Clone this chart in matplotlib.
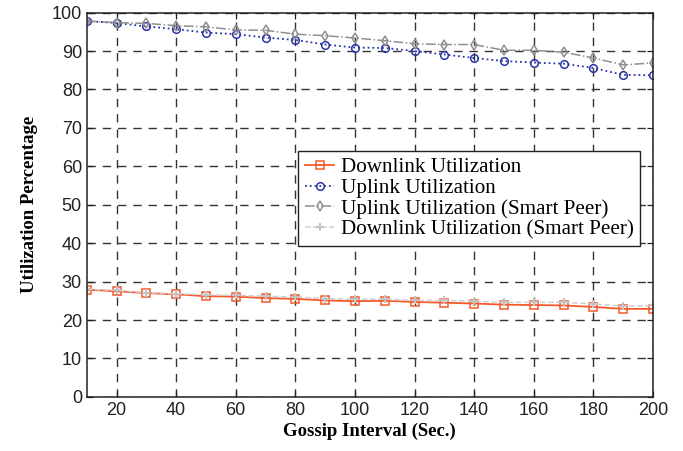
import matplotlib
matplotlib.use("Agg")
import matplotlib.pyplot as plt

# gossip interval in seconds
interval = [10, 20, 30, 40, 50, 60, 70, 80, 90, 100,
            110, 120, 130, 140, 150, 160, 170, 180, 190, 200]

downlink = [27.9, 27.5, 27.0, 26.7, 26.2, 26.1, 25.7, 25.5, 25.1, 24.9,
            25.0, 24.7, 24.5, 24.3, 24.0, 23.9, 23.8, 23.4, 22.9, 22.9]
uplink = [97.8, 97.3, 96.4, 95.7, 94.8, 94.4, 93.5, 92.9, 91.7, 90.9,
          90.8, 90.0, 89.1, 88.2, 87.4, 87.0, 86.7, 85.6, 83.8, 83.7]
uplink_smart = [97.8, 97.4, 97.2, 96.6, 96.3, 95.5, 95.4, 94.4, 94.0, 93.4,
                92.7, 91.9, 91.7, 91.7, 90.2, 90.2, 89.7, 88.2, 86.4, 86.9]
downlink_smart = [28.0, 27.7, 27.1, 26.8, 26.6, 26.4, 26.2, 26.0, 25.6, 25.4,
                  25.4, 25.1, 25.1, 24.9, 24.6, 24.6, 24.6, 24.2, 23.6, 23.8]

labels = ["Downlink Utilization", "Uplink Utilization",
          "Uplink Utilization (Smart Peer)", "Downlink Utilization (Smart Peer)"]

fig = plt.figure(figsize=(6.83, 4.51), dpi=100)
ax = fig.add_axes([0.127, 0.12, 0.829, 0.852])

ax.plot(interval, downlink, color="#f4592b", ls="-", lw=1.3, marker="s",
        ms=5.5, mfc="none", mec="#f4592b", mew=1.1, label=labels[0])
ax.plot(interval, uplink, color="#2a35a6", ls=":", lw=1.3, marker="o",
        ms=5.5, mfc="none", mec="#2a35a6", mew=1.1, label=labels[1])
ax.plot(interval, uplink_smart, color="#8f8f8f", ls="-.", lw=1.1, marker="d",
        ms=5.5, mfc="none", mec="#8f8f8f", mew=1.1, label=labels[2])
ax.plot(interval, downlink_smart, color="#cfcfcf", ls="--", lw=1.1, marker="+",
        ms=5.5, mec="#c4c4c4", mew=1.5, label=labels[3])

ax.set_xlim(10, 200)
ax.set_ylim(0, 100)
ax.set_xticks(range(20, 201, 20))
ax.set_yticks(range(0, 101, 10))

ax.grid(True, color="#333333", ls=(0, (6, 5)), lw=1.0)
ax.tick_params(direction="in", top=True, right=True, length=4, width=0.9,
               labelsize=13, colors="#222222")
for lab in ax.get_xticklabels() + ax.get_yticklabels():
    lab.set_family("Liberation Sans")
for sp in ax.spines.values():
    sp.set_linewidth(1.1)
    sp.set_color("#222222")

ax.set_xlabel("Gossip Interval (Sec.)", family="Liberation Serif",
              weight="bold", fontsize=13.5, labelpad=3)
ax.set_ylabel("Utilization Percentage", family="Liberation Serif",
              weight="bold", fontsize=13.5, labelpad=10)

leg = ax.legend(loc="upper right", bbox_to_anchor=(0.977, 0.64),
                borderaxespad=0, fancybox=False, framealpha=1,
                edgecolor="#222222", handlelength=1.4, handletextpad=0.3,
                labelspacing=0.05, borderpad=0.3,
                prop={"family": "Liberation Serif", "size": 15.2})
leg.get_frame().set_linewidth(1.0)

fig.savefig("out.png", dpi=100)
